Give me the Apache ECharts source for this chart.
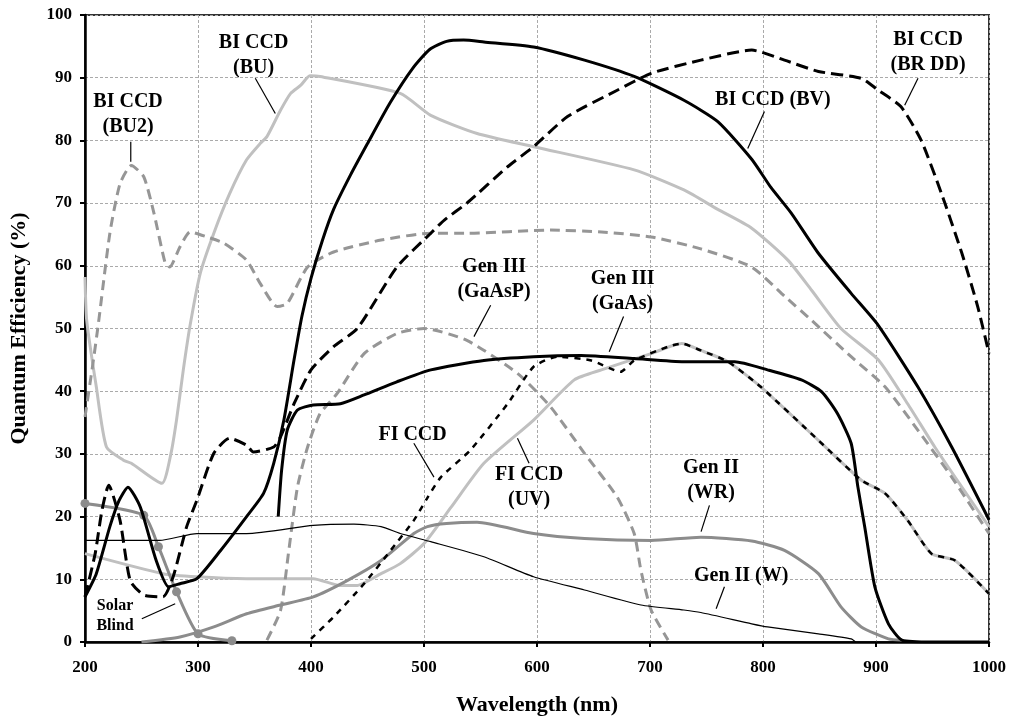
<!DOCTYPE html>
<html>
<head>
<meta charset="utf-8">
<script src="https://cdn.jsdelivr.net/npm/echarts@6/dist/echarts.min.js"></script>
<style>
html,body{margin:0;padding:0;background:#fff;}
#chart{width:1011px;height:721px;}
</style>
</head>
<body>
<div id="chart"></div>
<script>
// ---- data (wavelength nm, QE %) ----
const xTicks = [200,300,400,500,600,700,800,900,1000];
const yTicks = [0,10,20,30,40,50,60,70,80,90,100];

const biCcdBV = [[200,7.2],[210,10.9],[222,18.4],[230,22.5],[238,24.7],[249,21.5],[263,13],[274,8.8],[284,9.3],[299,10.1],[320,14.6],[343,20],[358,23.7],[367,28.5],[376,35.4],[385,45],[392,52],[400,58],[410,64],[420,69],[435,74.5],[450,79.5],[470,86],[490,91.5],[505,94.5],[520,95.8],[535,96],[553,95.7],[597,94.9],[642,92.8],[686,90.2],[730,86.4],[760,83],[790,77],[807,72.5],[825,68.4],[849,62],[878,55.6],[902,50.5],[937,40.7],[967,31.1],[1000,19.5]];
const biCcdBRDD = [[200,7.2],[209,14.1],[215,21],[221,25],[231,19.4],[240,9.8],[252,7.5],[269,7.2],[278,10.4],[290,18.4],[299,22.6],[314,30.1],[328,32.5],[343,31.4],[349,30.3],[367,31.1],[373,32.7],[385,38],[400,43.4],[420,47.1],[441,50],[476,59.8],[506,65.2],[518,67.3],[538,70],[574,75.8],[597,79],[627,83.8],[671,88],[701,90.7],[745,92.8],[790,94.4],[819,92.8],[849,91],[887,89.9],[902,88],[922,85.4],[940,80],[958,71.5],[976,62],[990,53.5],[1000,46]];
const biCcdBU = [[200,58.2],[201.5,51.3],[210,40.7],[219,31.1],[234,29],[241,28.5],[268,25.3],[276,30],[281,35.4],[287,43.4],[293,50.5],[302,58.8],[314,65.2],[328,71.5],[343,76.9],[355,79.5],[361,80.6],[373,84.8],[382,87.5],[391,88.8],[399,90.3],[408,90.2],[479,87.5],[506,84],[547,81.1],[597,79],[686,75.3],[730,72.1],[760,69],[790,66],[822,60.9],[843,56.1],[869,50],[902,45],[928,38],[952,31.1],[976,24.7],[1000,18.4]];
const biCcdBU2 = [[200,35.9],[207,44.4],[212,51],[222,65.2],[231,73.1],[241,76],[252,74.2],[261,68.4],[271,60.4],[275,59.8],[284,63],[293,65.4],[308,64.6],[323,63.6],[343,60.9],[355,57.2],[370,53.5],[379,54],[397,59.8],[420,62.2],[462,64.1],[506,65.2],[538,65.2],[612,65.7],[657,65.4],[701,64.6],[745,62.7],[790,59.8],[820,55],[843,51.3],[878,45.5],[908,40.7],[937,33.8],[967,26.3],[1000,17.3]];
const genIIIGaAsP = [[361,0.3],[373,5],[380,14.1],[388,24.7],[397,31.1],[408,36.4],[423,39.6],[447,46],[476,49.2],[500,50],[538,48.1],[583,42.8],[612,37.5],[642,30.1],[671,23.1],[686,17.3],[692,11.4],[701,5.1],[716,0.3]];
const genIIIGaAs = [[371,20],[374,27.4],[379,33.8],[388,37],[402,37.8],[426,38],[447,39.4],[476,41.5],[506,43.4],[553,44.9],[597,45.5],[639,45.7],[686,45.2],[730,44.7],[775,44.7],[804,43.4],[834,41.8],[852,39.9],[866,36.4],[878,31.7],[884,24.7],[890,18.4],[899,8.8],[911,2.9],[923,0.3],[950,0],[1000,0]];
const fiCcd = [[400,0.5],[420,4],[447,9.3],[470,14.5],[491,19.4],[503,23],[515,26.3],[541,30.6],[574,38],[597,43.9],[618,45.5],[648,44.9],[674,43.1],[686,44.9],[716,47.1],[728,47.6],[745,46.5],[769,44.7],[798,40.7],[850,32],[887,25.8],[908,23.7],[928,19.4],[949,14.1],[970,13],[1000,7.7]];
const fiCcdUV = [[200,14.1],[269,10.9],[299,10.4],[343,10.1],[402,10.1],[426,9],[440,9],[462,10.9],[479,12.5],[500,15.7],[524,21.5],[553,28.5],[597,35.4],[633,41.8],[657,43.4],[701,46],[728,47.6],[745,46.5],[769,44.7],[798,40.7],[850,32],[887,25.8],[908,23.7],[928,19.4],[949,14.1],[970,13],[1000,7.7]];
const genIIWR = [[250,0],[284,0.8],[314,2.4],[343,4.5],[373,5.9],[402,7.2],[432,9.8],[462,13],[491,17.3],[503,18.4],[520,18.9],[547,19.1],[597,17.3],[642,16.5],[701,16.2],[745,16.7],[790,16.1],[819,14.6],[849,10.9],[869,5.6],[887,2.4],[911,0.5],[923,0.3]];
const genIIW = [[200,16.2],[266,16.2],[299,17.3],[343,17.3],[402,18.6],[438,18.8],[462,18.4],[479,17.3],[506,16],[553,13.6],[597,10.4],[642,8.3],[692,5.9],[730,5.1],[745,4.7],[790,2.9],[804,2.4],[849,1.3],[878,0.5],[882,0]];
const solarBlind = [[200,22.1],[252,20.2],[265,15.2],[281,8],[300,1.3],[330,0.2]];

// annotation text and leader lines, in data coordinates
const labelTexts = ['BI CCD\n(BU2)','BI CCD\n(BU)','BI CCD (BV)','BI CCD\n(BR DD)','Gen III\n(GaAsP)','Gen III\n(GaAs)','FI CCD','FI CCD\n(UV)','Gen II\n(WR)','Gen II (W)','Solar\nBlind'];
const labelAt = [[238.1,84.2],[349.2,93.6],[808.7,86.4],[946.1,94.1],[562,57.9],[675.8,56],[489.9,33],[593,24.6],[754,25.8],[780.7,10.6],[226.6,4.1]];
const leaderFrom = [[240.5,79.8],[350.7,89.9],[801.3,84.6],[937.2,89.9],[559,53.7],[676.6,51.9],[491,31.7],[593,28.5],[752.6,21.8],[765.9,8.8],[250.3,3.7]];
const leaderTo = [[240.5,76.6],[368.4,84.3],[786.5,78.7],[925.4,85.6],[544.2,48.7],[663.9,46.3],[508.8,26.3],[582.7,32.5],[745.2,17.6],[758.5,5.3],[279.8,6.1]];

const FONT = '"Liberation Serif","Times New Roman",serif';
const LIGHT = '#c0c0c0', MID = '#8c8c8c', DASHGRAY = '#969696';

function line(name, data, color, width, type, z) {
  return {
    name, type: 'line', data, smooth: 0.2,
    showSymbol: false, symbol: 'none', z: z,
    lineStyle: {color, width, type, join: 'round', cap: 'butt'}, clip: true, animation: false
  };
}

const chart = echarts.init(document.getElementById('chart'), null, {renderer: 'canvas'});
const option = {
  animation: false,
  backgroundColor: '#fff',
  grid: {left: 85, right: 22, top: 15, bottom: 79, show: true, borderColor: '#333', borderWidth: 2, containLabel: false},
  xAxis: {
    type: 'value', min: 200, max: 1000, interval: 100,
    name: 'Wavelength (nm)', nameLocation: 'middle', nameGap: 52,
    nameTextStyle: {fontFamily: FONT, fontWeight: 'bold', fontSize: 22, color: '#000'},
    axisLine: {show: true, lineStyle: {color: '#000', width: 2.5}},
    axisTick: {show: true, length: 5, lineStyle: {color: '#000', width: 2}},
    axisLabel: {margin: 17, fontFamily: FONT, fontWeight: 'bold', fontSize: 17, color: '#000',
      formatter: v => xTicks.includes(v) ? String(v) : ''},
    splitLine: {show: true, lineStyle: {color: '#aaa', width: 1, type: [3, 2]}}
  },
  yAxis: {
    type: 'value', min: 0, max: 100, interval: 10,
    name: 'Quantum Efficiency (%)', nameLocation: 'middle', nameGap: 55, nameRotate: 90,
    nameTextStyle: {fontFamily: FONT, fontWeight: 'bold', fontSize: 22, color: '#000'},
    axisLine: {show: true, lineStyle: {color: '#000', width: 2.5}},
    axisTick: {show: true, length: 5, lineStyle: {color: '#000', width: 2}},
    axisLabel: {margin: 13, fontFamily: FONT, fontWeight: 'bold', fontSize: 17, color: '#000',
      formatter: v => yTicks.includes(v) ? String(v) : ''},
    splitLine: {show: true, lineStyle: {color: '#aaa', width: 1, type: [3, 2]}}
  },
  series: [
    line('BI CCD (BU)', biCcdBU, LIGHT, 3, 'solid', 2),
    line('FI CCD (UV)', fiCcdUV, LIGHT, 3, 'solid', 2),
    line('BI CCD (BU2)', biCcdBU2, DASHGRAY, 3, [10, 6], 3),
    line('Gen III (GaAsP)', genIIIGaAsP, DASHGRAY, 3, [10, 6], 3),
    line('Gen II (WR)', genIIWR, MID, 3, 'solid', 3),
    Object.assign(line('Solar Blind', solarBlind, MID, 3, 'solid', 3),
      {showSymbol: true, symbol: 'circle', symbolSize: 9, itemStyle: {color: MID}}),
    line('Gen II (W)', genIIW, '#000', 1.2, 'solid', 4),
    line('FI CCD', fiCcd, '#000', 2.5, [6, 6], 5),
    line('Gen III (GaAs)', genIIIGaAs, '#000', 3, 'solid', 5),
    line('BI CCD (BR DD)', biCcdBRDD, '#000', 3, [12, 6], 5),
    line('BI CCD (BV)', biCcdBV, '#000', 3, 'solid', 6)
  ]
};
chart.setOption(option);

const graphics = [];
labelTexts.forEach((t, i) => {
  const p = chart.convertToPixel({gridIndex: 0}, labelAt[i]);
  const a = chart.convertToPixel({gridIndex: 0}, leaderFrom[i]);
  const b = chart.convertToPixel({gridIndex: 0}, leaderTo[i]);
  const small = t.startsWith('Solar');
  graphics.push({
    type: 'line', z: 20, silent: true,
    shape: {x1: a[0], y1: a[1], x2: b[0], y2: b[1]},
    style: {stroke: '#000', lineWidth: 1.2}
  });
  graphics.push({
    type: 'text', z: 21, silent: true, x: p[0], y: p[1],
    style: {text: t, fill: '#000', align: 'center', verticalAlign: 'middle',
      font: 'bold ' + (small ? 16 : 20) + 'px ' + FONT, lineHeight: small ? 20 : 25}
  });
});
chart.setOption({graphic: graphics});
</script>
</body>
</html>
